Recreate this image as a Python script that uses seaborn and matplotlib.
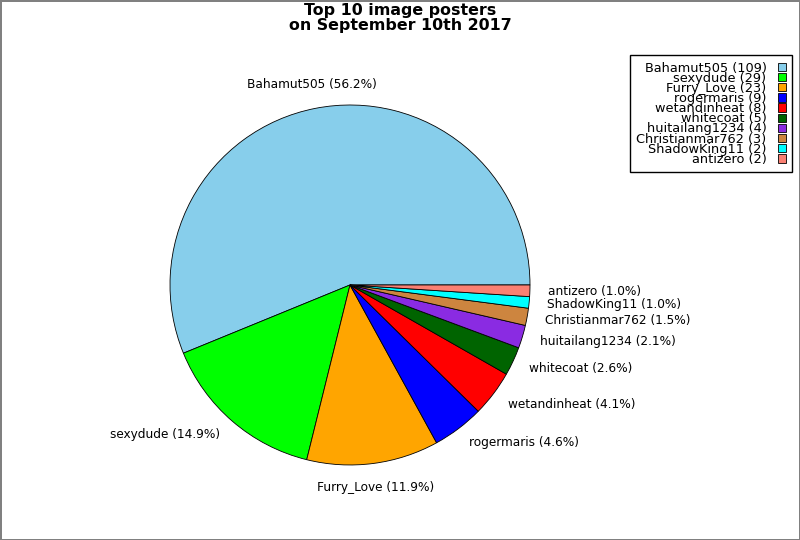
import matplotlib
matplotlib.use("Agg")
import matplotlib.pyplot as plt
import seaborn as sns

# DATA
posters = ["Bahamut505", "sexydude", "Furry_Love", "rogermaris", "wetandinheat",
           "whitecoat", "huitailang1234", "Christianmar762", "ShadowKing11", "antizero"]
counts = [109, 29, 23, 9, 8, 5, 4, 3, 2, 2]

palette = ["skyblue", "lime", "orange", "blue", "red",
           "darkgreen", "blueviolet", "peru", "cyan", "salmon"]

sns.set_style("white")
plt.rcParams['font.family'] = ['DejaVu Sans']
plt.rcParams['text.color'] = 'black'

total = sum(counts)
pie_labels = [f"{n} ({c / total * 100:.1f}%)" for n, c in zip(posters, counts)]
legend_labels = [f"{n} ({c})" for n, c in zip(posters, counts)]

fig = plt.figure(figsize=(8, 5.4), dpi=100)
fig.patch.set_edgecolor("gray")
fig.patch.set_linewidth(2)

ax = fig.add_axes([0.15625, 0.0556, 0.5625, 0.8333])
wedges, texts = ax.pie(counts, labels=pie_labels, colors=palette, startangle=0,
                       counterclock=True, labeldistance=1.1,
                       wedgeprops=dict(edgecolor="black", linewidth=0.6),
                       textprops=dict(fontsize=8.7, color="black"))
ax.set_xlim(-1.25, 1.25)
ax.set_ylim(-1.25, 1.25)
ax.set_aspect("equal")

# labels close to the vertical axis are centred
for t in texts:
    x, y = t.get_position()
    if abs(x) < 0.3:
        t.set_horizontalalignment("center")
        t.set_verticalalignment("bottom" if y > 0 else "top")

fig.suptitle("Top 10 image posters\non September 10th 2017", fontsize=11.4,
             fontweight="bold", color="black", y=0.995, va="top", linespacing=1.0)

leg = fig.legend(wedges, legend_labels, loc="upper right",
                 bbox_to_anchor=(0.99, 0.898), borderaxespad=0, fontsize=9.3,
                 markerfirst=False, fancybox=False, framealpha=1,
                 edgecolor="black", labelspacing=-0.22, handlelength=0.62,
                 handleheight=0.62, handletextpad=0.85, borderpad=0.5)
leg.get_frame().set_linewidth(1)
for t in leg.get_texts():
    t.set_color("black")

fig.savefig("out.png", dpi=100)
